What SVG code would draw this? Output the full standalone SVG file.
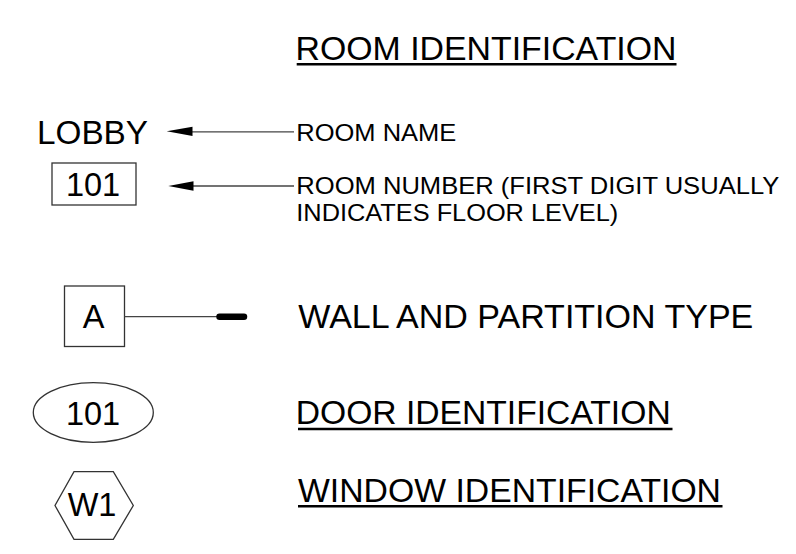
<svg xmlns="http://www.w3.org/2000/svg" width="796" height="554" viewBox="0 0 796 554">
<style>
.t{font-family:"Liberation Sans",Arial,sans-serif;fill:#000}
.b{font-size:33.5px}
.s{font-size:24.5px}
.sh{fill:none;stroke:#333;stroke-width:1.3}
.ln{stroke:#444;stroke-width:1.3;fill:none}
.ul{stroke:#000;stroke-width:2.5}
</style>
<rect width="796" height="554" fill="#fff"/>
<g id="title">
<text class="t b" x="295.5" y="60.2" textLength="381" lengthAdjust="spacingAndGlyphs">ROOM IDENTIFICATION</text>
<line class="ul" x1="296.7" y1="64.3" x2="676.5" y2="64.3"/>
</g>
<g id="lobby">
<text class="t" x="37" y="144" font-size="32.5" textLength="111" lengthAdjust="spacingAndGlyphs">LOBBY</text>
</g>
<g id="room-number">
<rect class="sh" x="52" y="163" width="84" height="42"/>
<text class="t" x="93" y="195.7" font-size="32.5" text-anchor="middle">101</text>
</g>
<g id="room-name-label">
<text class="t s" x="296.3" y="141" textLength="160" lengthAdjust="spacingAndGlyphs">ROOM NAME</text>
</g>
<g id="room-number-label">
<text class="t s" x="296.3" y="194.3" textLength="483" lengthAdjust="spacingAndGlyphs">ROOM NUMBER (FIRST DIGIT USUALLY</text>
<text class="t s" x="296.3" y="221" textLength="322" lengthAdjust="spacingAndGlyphs">INDICATES FLOOR LEVEL)</text>
</g>
<g id="wall-tag">
<rect class="sh" x="64.5" y="286" width="60" height="60.5"/>
<text class="t" x="93.5" y="328" font-size="32.5" text-anchor="middle">A</text>
</g>
<g id="wall-label">
<text class="t b" x="298.3" y="327.5" textLength="455" lengthAdjust="spacingAndGlyphs">WALL AND PARTITION TYPE</text>
</g>
<g id="door-tag">
<ellipse class="sh" cx="93.3" cy="412.5" rx="60" ry="29.8"/>
<text class="t" x="93" y="425" font-size="32.5" text-anchor="middle">101</text>
</g>
<g id="door-label">
<text class="t b" x="295.7" y="424.3" textLength="375" lengthAdjust="spacingAndGlyphs">DOOR IDENTIFICATION</text>
<line class="ul" x1="298" y1="429" x2="672.5" y2="429"/>
</g>
<g id="window-tag">
<polygon class="sh" points="74,471.7 113.3,471.7 133.3,505.5 113.3,539.3 74,539.3 55,505.5"/>
<text class="t" x="92" y="516" font-size="32.5" text-anchor="middle">W1</text>
</g>
<g id="window-label">
<text class="t b" x="298" y="502.3" textLength="423" lengthAdjust="spacingAndGlyphs">WINDOW IDENTIFICATION</text>
<line class="ul" x1="298" y1="506.3" x2="722.5" y2="506.3"/>
</g>
<g id="connectors">
<line class="ln" x1="192" y1="131.8" x2="294" y2="131.8"/>
<polygon points="166.7,131.3 192.5,126.8 192.5,136" fill="#000"/>
<line class="ln" x1="193" y1="186" x2="294" y2="186"/>
<polygon points="168.3,186 193.5,181.2 193.5,190.8" fill="#000"/>
<line class="ln" x1="124.5" y1="316.7" x2="218" y2="316.7"/>
<line x1="219.5" y1="316.7" x2="244" y2="316.7" stroke="#000" stroke-width="6.5" stroke-linecap="round"/>
</g>
</svg>
